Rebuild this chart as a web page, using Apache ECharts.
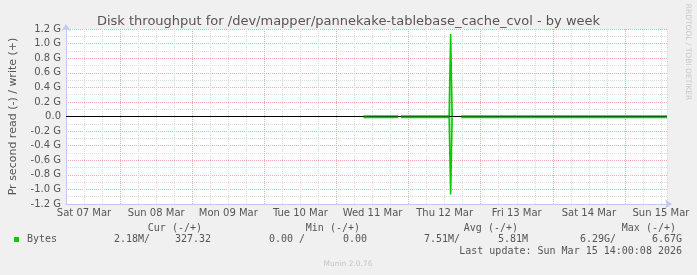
<!DOCTYPE html>
<html>
<head>
<meta charset="utf-8">
<script src="https://cdn.jsdelivr.net/npm/echarts@6/dist/echarts.min.js"></script>
<style>
html,body{margin:0;padding:0;background:#f0f0f0;}
#c{width:697px;height:275px;}
</style>
</head>
<body>
<div id="c"></div>
<script>
// x = hours since Sat 07 Mar 00:00
const dayLabels = ['Sat 07 Mar','Sun 08 Mar','Mon 09 Mar','Tue 10 Mar','Wed 11 Mar','Thu 12 Mar','Fri 13 Mar','Sat 14 Mar','Sun 15 Mar'];
const hours  = [105,   116.5, 117,  117.5, 133.5, 134,   134.5, 135,  137.5, 206];
const writeG = [0.006, 0.006, null, 0.006, 0.006, 1.13,  0.006, null, 0.006, 0.006];
const readG  = [-0.012,-0.012,null,-0.012,-0.012,-1.07, -0.012, null,-0.012,-0.012];
const yTickLabels = ['-1.2 G','-1.0 G','-0.8 G','-0.6 G','-0.4 G','-0.2 G','0.0','0.2 G','0.4 G','0.6 G','0.8 G','1.0 G','1.2 G'];
const seriesName = 'Bytes';
const statHeads = ['Cur (-/+)','Min (-/+)','Avg (-/+)','Max (-/+)'];
const statRead  = ['2.18M/','0.00 /','7.51M/','6.29G/'];
const statWrite = ['327.32','0.00','5.81M','6.67G'];
const titleText = 'Disk throughput for /dev/mapper/pannekake-tablebase_cache_cvol - by week';
const yName = 'Pr second read (-) / write (+)';
const lastUpdate = 'Last update: Sun Mar 15 14:00:08 2026';
const footer = 'Munin 2.0.76';
const sideText = 'RRDTOOL / TOBI OETIKER';

const GREEN = '#00cc00';
const LIGHTGREEN = 'rgba(0,204,0,0.45)';
const RED = '#f0a8a8';
const GREY = '#dcdcdc';
const TXT = '#555';
const mono = '"DejaVu Sans Mono", monospace';

const chart = echarts.init(document.getElementById('c'), null, {renderer:'canvas'});
const wData = hours.map((h,i)=>[h, writeG[i]]);
const rData = hours.map((h,i)=>[h, readG[i]]);

const headRight = [202, 360, 518, 676];
const readRight = [150, 305, 460, 616];
const writeRight = [211, 367, 528, 682];
const graphics = [
  {type:'text', x:688, y:52, rotation:-Math.PI/2,
   style:{text:sideText, fill:'#c8c8c8', font:'7.5px "DejaVu Sans"', textAlign:'center', textVerticalAlign:'middle'}},
  {type:'rect', shape:{x:14,y:237,width:5,height:5}, style:{fill:GREEN}},
  {type:'text', x:27, y:239.5, style:{text:seriesName, fill:TXT, font:'10px '+mono, textVerticalAlign:'middle'}},
  {type:'text', x:682, y:251, style:{text:lastUpdate, fill:TXT, font:'10px '+mono, textAlign:'right', textVerticalAlign:'middle'}},
  {type:'text', x:348, y:264, style:{text:footer, fill:'#c4c4c4', font:'7.5px "DejaVu Sans"', textAlign:'center', textVerticalAlign:'middle'}}
];
statHeads.forEach((t,i)=>{
  graphics.push({type:'text', x:headRight[i], y:228, style:{text:t, fill:TXT, font:'10px '+mono, textAlign:'right', textVerticalAlign:'middle'}});
  graphics.push({type:'text', x:readRight[i], y:239.5, style:{text:statRead[i], fill:TXT, font:'10px '+mono, textAlign:'right', textVerticalAlign:'middle'}});
  graphics.push({type:'text', x:writeRight[i], y:239.5, style:{text:statWrite[i], fill:TXT, font:'10px '+mono, textAlign:'right', textVerticalAlign:'middle'}});
});

chart.setOption({
  backgroundColor:'#f0f0f0',
  animation:false,
  title:{text:titleText, left:'center', top:10,
    textStyle:{fontFamily:'DejaVu Sans', fontSize:13, fontWeight:'normal', color:TXT}},
  grid:{left:66, right:30, top:29, bottom:71, show:true, backgroundColor:'#fff', borderWidth:0, containLabel:false},
  xAxis:{type:'value', min:6, max:206, interval:6,
    axisLine:{show:true, onZero:false, lineStyle:{color:'#c4c8f0', width:1}, symbol:['none','arrow'], symbolSize:[7,7], symbolOffset:[0,5]},
    axisTick:{show:false},
    splitLine:{show:true, lineStyle:{color:[GREY,GREY,GREY,RED], type:[1,1], width:1}},
    axisLabel:{color:TXT, fontFamily:'DejaVu Sans', fontSize:10, margin:4,
      formatter:v=>{ const h=Math.round(v); return (h%24===12) ? dayLabels[Math.floor(h/24)] : ''; }}
  },
  yAxis:{type:'value', min:-1.2, max:1.2, interval:0.1,
    name:yName, nameLocation:'middle', nameGap:47, nameRotate:90,
    nameTextStyle:{color:TXT, fontFamily:'DejaVu Sans', fontSize:11},
    axisLine:{show:true, onZero:false, lineStyle:{color:'#c4c8f0', width:1}, symbol:['none','arrow'], symbolSize:[7,7], symbolOffset:[0,5]},
    axisTick:{show:false},
    splitLine:{show:true, lineStyle:{color:[RED,GREY], type:[1,1], width:1}},
    axisLabel:{color:TXT, fontFamily:'DejaVu Sans', fontSize:10, margin:5,
      formatter:v=>{ const k=Math.round(v*10); return (k%2===0) ? yTickLabels[(k+12)/2] : ''; }}
  },
  series:[
    {type:'line', name:'write', data:wData, showSymbol:false, connectNulls:false,
     lineStyle:{color:GREEN, width:1.6}, itemStyle:{color:GREEN}, areaStyle:{color:LIGHTGREEN, origin:0}, z:1},
    {type:'line', name:'read', data:rData, showSymbol:false, connectNulls:false,
     lineStyle:{color:GREEN, width:1.6}, itemStyle:{color:GREEN}, areaStyle:{color:LIGHTGREEN, origin:0}, z:4,
     markLine:{silent:true, z:3, symbol:['none','none'], label:{show:false},
       lineStyle:{color:'#000', width:1, type:'solid'}, data:[{yAxis:0}]}}
  ],
  graphic:graphics
});
</script>
</body>
</html>
